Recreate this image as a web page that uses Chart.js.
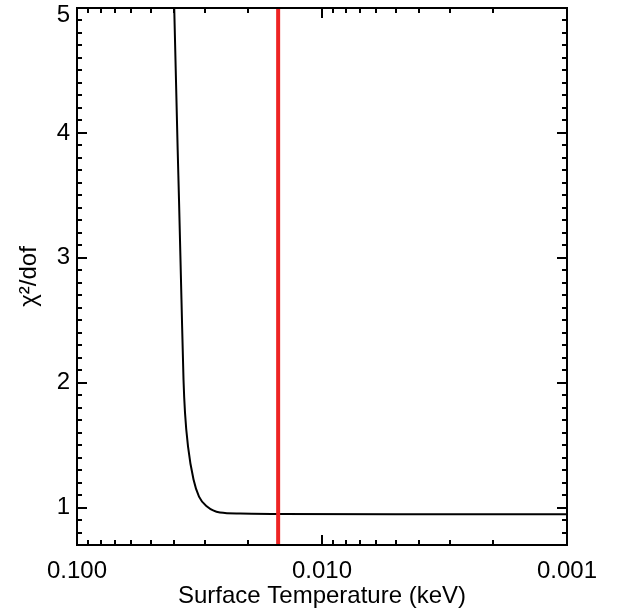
<!DOCTYPE html>
<html>
<head>
<meta charset="utf-8">
<title>chi2 vs surface temperature</title>
<script src="https://cdn.jsdelivr.net/npm/chart.js@4.4.1/dist/chart.umd.min.js"></script>
<style>
  html, body { margin: 0; padding: 0; background: #fff; }
  canvas { display: block; }
</style>
</head>
<body>
<canvas id="chart" width="624" height="613"></canvas>
<script>
// values (keV, chi^2/dof)
let tempKeV = [0.0413, 0.0401, 0.03882, 0.03834, 0.03746, 0.03675, 0.03624, 0.03522, 0.03345, 0.03177, 0.02947, 0.02609, 0.0216, 0.015, 0.005, 0.001]
let chiSq   = [6.0,    5.0,    3.864,   3.464,   2.664,   2.024,   1.76,    1.488,   1.224,   1.088,   1.008,   0.96,    0.952,  0.948, 0.947, 0.947]

let bestTemp = 0.0151
let yRange = [0.7, 5]
let xRange = [0.001, 0.1]

let xMajorTicks = [0.1, 0.01, 0.001]
let xMinorTicks = [0.09, 0.08, 0.07, 0.06, 0.05, 0.04, 0.03, 0.02,
                   0.009, 0.008, 0.007, 0.006, 0.005, 0.004, 0.003, 0.002]
let yMajorTicks = [1, 2, 3, 4, 5]
let yMinorStep = 0.1

let fontFamily = '"Liberation Sans", Arial, Helvetica, sans-serif'
let redColour = 'rgb(238,36,36)'

function curvePoints() {
  let pts = []
  for (let i = 0; i < tempKeV.length; ++i)
    pts.push({x: tempKeV[i], y: chiSq[i]})
  return pts
}

// IDL-style box with inward ticks on all four sides
let framePlugin = {
  id: 'frame',
  afterDatasetsDraw(chart) {
    let {ctx, chartArea: a, scales: {x, y}} = chart
    ctx.save()
    ctx.strokeStyle = '#000'
    ctx.lineWidth = 2
    ctx.lineCap = 'butt'
    ctx.beginPath()
    let tick = (px, len, vertical) => {
      if (vertical) {
        ctx.moveTo(px, a.bottom); ctx.lineTo(px, a.bottom - len)
        ctx.moveTo(px, a.top); ctx.lineTo(px, a.top + len)
      } else {
        ctx.moveTo(a.left, px); ctx.lineTo(a.left + len, px)
        ctx.moveTo(a.right, px); ctx.lineTo(a.right - len, px)
      }
    }
    for (let v of xMajorTicks) tick(Math.round(x.getPixelForValue(v)), 10, true)
    for (let v of xMinorTicks) tick(Math.round(x.getPixelForValue(v)), 5, true)
    for (let v = yRange[0]; v <= yRange[1] + 1e-9; v += yMinorStep) {
      let r = Math.round(v * 10) / 10
      let major = yMajorTicks.includes(r)
      tick(Math.round(y.getPixelForValue(r)), major ? 10 : 5, false)
    }
    ctx.stroke()
    ctx.strokeRect(a.left, a.top, a.right - a.left, a.bottom - a.top)
    ctx.restore()
  },
}

let ctx = document.getElementById('chart').getContext('2d')
let chart = new Chart(ctx, {
  type: 'line',
  data: {
    datasets: [
      {
        data: [{x: bestTemp, y: yRange[0]}, {x: bestTemp, y: yRange[1]}],
        borderColor: redColour,
        borderWidth: 4,
        pointRadius: 0,
        fill: false,
      },
      {
        data: curvePoints(),
        borderColor: '#000',
        borderWidth: 2,
        pointRadius: 0,
        cubicInterpolationMode: 'monotone',
        fill: false,
      },
    ],
  },
  options: {
    responsive: false,
    animation: false,
    events: [],
    layout: {padding: {left: 0, right: 57, top: 8, bottom: 0}},
    plugins: {legend: {display: false}, tooltip: {enabled: false}},
    scales: {
      x: {
        type: 'logarithmic',
        reverse: true,
        min: xRange[0],
        max: xRange[1],
        grid: {display: false, drawTicks: false},
        border: {display: false},
        afterBuildTicks: s => { s.ticks = xMajorTicks.map(v => ({value: v})) },
        afterFit: s => { s.height = 68 },
        ticks: {
          color: '#000',
          font: {family: fontFamily, size: 24},
          padding: 12,
          maxRotation: 0,
          autoSkip: false,
          callback: v => Number(v).toFixed(3),
        },
        title: {
          display: true,
          text: 'Surface Temperature (keV)',
          color: '#000',
          font: {family: fontFamily, size: 24},
          padding: {top: 0, bottom: 2},
        },
      },
      y: {
        type: 'linear',
        min: yRange[0],
        max: yRange[1],
        grid: {display: false, drawTicks: false},
        border: {display: false},
        afterBuildTicks: s => { s.ticks = yMajorTicks.map(v => ({value: v})) },
        afterFit: s => {
          s.width = 77
          s.paddingTop = 0
          s.paddingBottom = 0
        },
        ticks: {
          color: '#000',
          // top label sits a little below its tick, as in the original
          font: c => (c.tick && c.tick.value === yRange[1])
            ? {family: fontFamily, size: 24, lineHeight: '15px'}
            : {family: fontFamily, size: 24},
          padding: 7,
          callback: v => (v === yRange[1]) ? ['', String(v)] : String(v),
        },
        title: {
          display: true,
          text: 'χ²/dof',
          color: '#000',
          font: {family: fontFamily, size: 24},
          padding: {top: 15, bottom: 0},
        },
      },
    },
  },
  plugins: [framePlugin],
})
</script>
</body>
</html>
